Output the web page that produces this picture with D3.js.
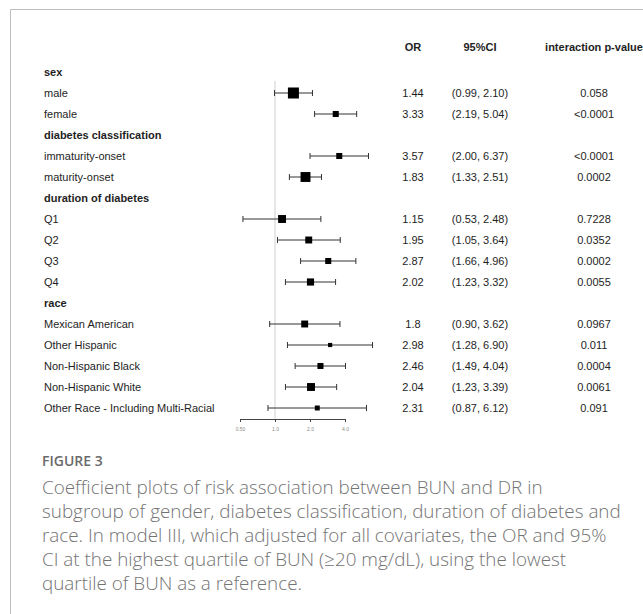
<!DOCTYPE html>
<html>
<head>
<meta charset="utf-8">
<script src="https://cdn.jsdelivr.net/npm/d3@7"></script>
<style>
  body { margin: 0; background: #fff; }
</style>
</head>
<body>
<svg id="chart"></svg>
<script>
// rows of the forest plot (group headers have no values)
const rowLabels = ["sex", "male", "female", "diabetes classification", "immaturity-onset", "maturity-onset",
  "duration of diabetes", "Q1", "Q2", "Q3", "Q4", "race", "Mexican American", "Other Hispanic",
  "Non-Hispanic Black", "Non-Hispanic White", "Other Race - Including Multi-Racial"];
const groupRows = ["sex", "diabetes classification", "duration of diabetes", "race"];

const orValues = [null, 1.44, 3.33, null, 3.57, 1.83, null, 1.15, 1.95, 2.87, 2.02, null, 1.8, 2.98, 2.46, 2.04, 2.31];
const ciLower  = [null, 0.99, 2.19, null, 2.00, 1.33, null, 0.53, 1.05, 1.66, 1.23, null, 0.90, 1.28, 1.49, 1.23, 0.87];
const ciUpper  = [null, 2.10, 5.04, null, 6.37, 2.51, null, 2.48, 3.64, 4.96, 3.32, null, 3.62, 6.90, 4.04, 3.39, 6.12];
const pValues  = [null, "0.058", "<0.0001", null, "<0.0001", "0.0002", null, "0.7228", "0.0352", "0.0002", "0.0055",
  null, "0.0967", "0.011", "0.0004", "0.0061", "0.091"];
// relative box weight
const boxWeights = [null, 1.0, 0.55, null, 0.55, 0.9, null, 0.72, 0.63, 0.55, 0.65, null, 0.63, 0.38, 0.55, 0.72, 0.45];

const headers = ["OR", "95%CI", "interaction p-value"];
const xTicks = [0.5, 1, 2, 4];
const xTickLabels = ["0.50", "1.0", "2.0", "4.0"];

const captionTitle = "FIGURE 3";
const captionLines = [
  "Coefficient plots of risk association between BUN and DR in",
  "subgroup of gender, diabetes classification, duration of diabetes and",
  "race. In model III, which adjusted for all covariates, the OR and 95%",
  "CI at the highest quartile of BUN (\u226520 mg/dL), using the lowest",
  "quartile of BUN as a reference."
];

const W = 643, H = 614;
const plotFont = "'Liberation Sans', Arial, sans-serif";
const capFont = "'Open Sans', sans-serif";
const svg = d3.select("#chart").attr("width", W).attr("height", H);

// frame
svg.append("path")
  .attr("d", `M10.5,${H} V9.5 H${W}`)
  .attr("fill", "none")
  .attr("stroke", "#bdbdbd")
  .attr("stroke-width", 1);

// scales
const rows = d3.range(rowLabels.length);
const y = d3.scalePoint().domain(rows).range([72, 408]);
const x = d3.scaleLog().domain([0.5, 4]).range([240, 345]);
const box = d3.scaleLinear().domain([0, 1]).range([0, 11]);

const colOR = 413, colCI = 480, colP = 594;
const textColor = "#1e1e1e";

// column headers
svg.selectAll(".hdr")
  .data(headers)
  .enter().append("text")
  .attr("class", "hdr")
  .attr("x", (d, i) => [colOR, colCI, colP][i])
  .attr("y", 47)
  .attr("dy", "0.35em")
  .attr("text-anchor", "middle")
  .style("font-family", plotFont)
  .style("font-size", "11px")
  .style("font-weight", "bold")
  .attr("fill", textColor)
  .text(d => d);

// row labels
svg.selectAll(".lbl")
  .data(rows)
  .enter().append("text")
  .attr("class", "lbl")
  .attr("x", 44)
  .attr("y", i => y(i))
  .attr("dy", "0.35em")
  .style("font-family", plotFont)
  .style("font-size", "11px")
  .style("font-weight", i => groupRows.includes(rowLabels[i]) ? "bold" : "normal")
  .attr("fill", textColor)
  .text(i => rowLabels[i]);

const dataRows = rows.filter(i => orValues[i] !== null);

// reference line at OR = 1
svg.append("line")
  .attr("x1", x(1)).attr("x2", x(1))
  .attr("y1", 81).attr("y2", 419)
  .attr("stroke", "#cfcfcf")
  .attr("stroke-width", 1);

// confidence intervals
const ci = svg.append("g").attr("stroke", "#333").attr("stroke-width", 1);
ci.selectAll(".ci")
  .data(dataRows)
  .enter().append("line")
  .attr("x1", i => x(ciLower[i])).attr("x2", i => x(ciUpper[i]))
  .attr("y1", i => y(i)).attr("y2", i => y(i));
ci.selectAll(".capL")
  .data(dataRows)
  .enter().append("line")
  .attr("x1", i => x(ciLower[i])).attr("x2", i => x(ciLower[i]))
  .attr("y1", i => y(i) - 3).attr("y2", i => y(i) + 3);
ci.selectAll(".capR")
  .data(dataRows)
  .enter().append("line")
  .attr("x1", i => x(ciUpper[i])).attr("x2", i => x(ciUpper[i]))
  .attr("y1", i => y(i) - 3).attr("y2", i => y(i) + 3);

// point estimate squares
svg.selectAll(".box")
  .data(dataRows)
  .enter().append("rect")
  .attr("x", i => x(orValues[i]) - box(boxWeights[i]) / 2)
  .attr("y", i => y(i) - box(boxWeights[i]) / 2)
  .attr("width", i => box(boxWeights[i]))
  .attr("height", i => box(boxWeights[i]))
  .attr("fill", "#000");

// value columns
function valueColumn(cx, fmt) {
  svg.append("g").selectAll("text")
    .data(dataRows)
    .enter().append("text")
    .attr("x", cx).attr("y", i => y(i)).attr("dy", "0.35em")
    .attr("text-anchor", "middle")
    .style("font-family", plotFont)
    .style("font-size", "11px")
    .attr("fill", textColor)
    .text(fmt);
}
valueColumn(colOR, i => String(orValues[i]));
valueColumn(colCI, i => `(${ciLower[i].toFixed(2)}, ${ciUpper[i].toFixed(2)})`);
valueColumn(colP, i => pValues[i]);

// x axis
const axis = svg.append("g")
  .attr("transform", "translate(0,419)")
  .call(d3.axisBottom(x).tickValues(xTicks).tickFormat((d, i) => xTickLabels[i]).tickSize(3).tickPadding(5));
axis.select(".domain").attr("stroke", "#444");
axis.selectAll(".tick line").attr("stroke", "#444");
axis.selectAll(".tick text")
  .style("font-family", plotFont)
  .style("font-size", "5px")
  .attr("fill", "#8a8a8a");

// caption
svg.append("text")
  .attr("x", 42).attr("y", 466)
  .style("font-family", capFont)
  .style("font-size", "14px")
  .style("font-weight", 600)
  .attr("fill", "#6a6a6a")
  .text(captionTitle);

const cap = svg.selectAll(".cap")
  .data(captionLines)
  .enter().append("text")
  .attr("x", 42)
  .attr("y", (d, i) => 494 + i * 24)
  .style("font-family", capFont)
  .style("font-size", "17px")
  .style("font-weight", 300)
  .attr("fill", "#737373")
  .text(d => d);

// fit the longest caption line to the width seen in the figure (42 -> 621)
const longest = cap.nodes()[1].getComputedTextLength();
if (longest > 0) cap.style("font-size", (17 * 579 / longest).toFixed(2) + "px");
</script>
</body>
</html>
